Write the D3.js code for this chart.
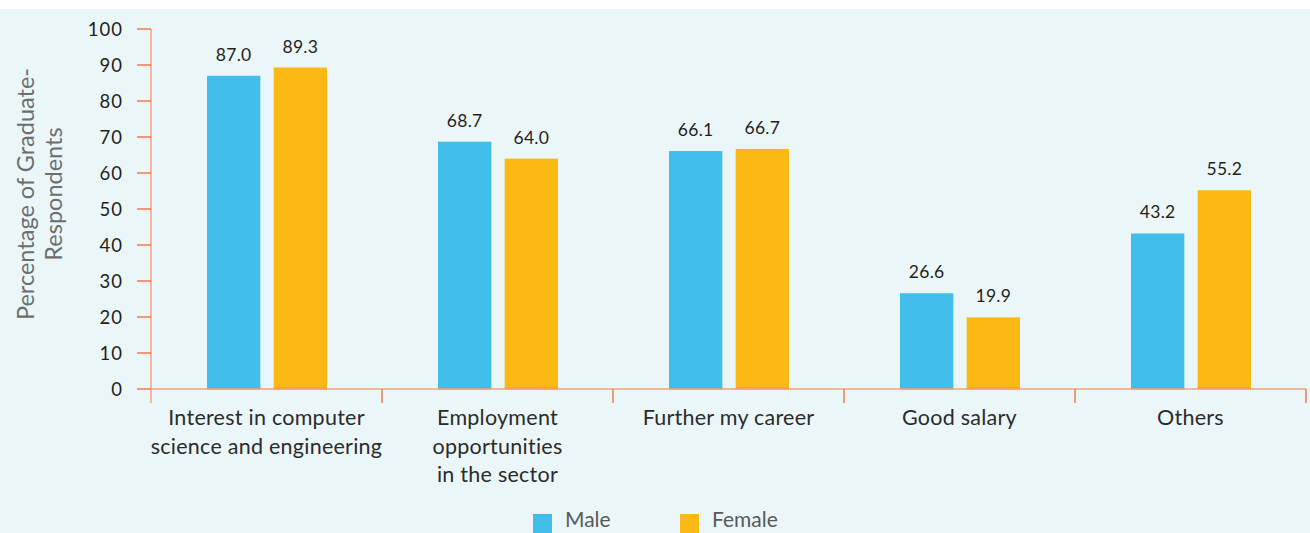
<!DOCTYPE html>
<html><head><meta charset="utf-8">
<script src="https://cdn.jsdelivr.net/npm/d3@7"></script>
<style>
html,body{margin:0;padding:0;background:#fff;}
svg{display:block;font-family:Lato,"Open Sans",sans-serif;}
</style></head>
<body>
<svg id="chart" width="1310" height="533"></svg>
<script>
const categories = [
  ["Interest in computer", "science and engineering"],
  ["Employment", "opportunities", "in the sector"],
  ["Further my career"],
  ["Good salary"],
  ["Others"]
];
const seriesNames = ["Male", "Female"];
const maleValues = [87.0, 68.7, 66.1, 26.6, 43.2];
const femaleValues = [89.3, 64.0, 66.7, 19.9, 55.2];
const yTicks = [0, 10, 20, 30, 40, 50, 60, 70, 80, 90, 100];
const yTitle = ["Percentage of Graduate-", "Respondents"];
const colors = ["#41BFEA", "#FDB913"];

const svg = d3.select("#chart");
svg.append("rect").attr("x", 0).attr("y", 9).attr("width", 1310).attr("height", 524).attr("fill", "#EBF6F8");

const x0 = d3.scaleBand().domain(d3.range(categories.length)).range([151, 1306]).paddingInner(0).paddingOuter(0);
const x1 = d3.scaleBand().domain(seriesNames).range([56, 176]).paddingInner(0.2);
const y = d3.scaleLinear().domain([0, 100]).range([389, 29]);

const data = categories.map((c, i) => ({i, vals: [maleValues[i], femaleValues[i]]}));

// bars
const g = svg.append("g");
data.forEach(d => {
  d.vals.forEach((v, k) => {
    const bx = x0(d.i) + x1(seriesNames[k]);
    g.append("rect")
      .attr("x", bx).attr("y", y(v))
      .attr("width", x1.bandwidth()).attr("height", y(0) - y(v))
      .attr("fill", colors[k]);
    g.append("line")
      .attr("x1", bx).attr("x2", bx + x1.bandwidth()).attr("y1", y(0) - 0.5).attr("y2", y(0) - 0.5)
      .attr("stroke", k === 0 ? "#8A9A9E" : "#F59A1E").attr("stroke-width", 2);
    g.append("text")
      .attr("x", bx + x1.bandwidth() / 2).attr("y", y(v) - 15)
      .attr("text-anchor", "middle").attr("font-size", 17.5).attr("letter-spacing", 0.3).attr("fill", "#231F20")
      .text(v.toFixed(1));
  });
});

// y axis
const axisColor = "#F2A284";
const tickColor = "#F07A4F";
const yAxis = svg.append("g");
yAxis.append("line").attr("x1", 151).attr("x2", 151).attr("y1", y(100)).attr("y2", 403)
  .attr("stroke", axisColor).attr("stroke-width", 1.5);
yTicks.forEach(t => {
  yAxis.append("line").attr("x1", 137).attr("x2", 151).attr("y1", y(t)).attr("y2", y(t))
    .attr("stroke", tickColor).attr("stroke-width", 1.5);
  yAxis.append("text").attr("x", 123).attr("y", y(t)).attr("dy", "0.36em")
    .attr("text-anchor", "end").attr("font-size", 18.5).attr("letter-spacing", 1).attr("fill", "#231F20").text(t);
});

// x axis
const xAxis = svg.append("g");
xAxis.append("line").attr("x1", 151).attr("x2", 1306).attr("y1", y(0)).attr("y2", y(0))
  .attr("stroke", axisColor).attr("stroke-width", 1.5);
const bounds = d3.range(categories.length + 1).map(i => i < categories.length ? x0(i) : x0(categories.length - 1) + x0.bandwidth());
bounds.forEach((bx, i) => {
  if (i === 0) return;
  xAxis.append("line").attr("x1", bx).attr("x2", bx).attr("y1", y(0)).attr("y2", y(0) + 14)
    .attr("stroke", tickColor).attr("stroke-width", 1.5);
});
categories.forEach((lines, i) => {
  const t = xAxis.append("text").attr("text-anchor", "middle").attr("font-size", 21.5).attr("letter-spacing", 0.25).attr("fill", "#2B2B2B");
  lines.forEach((ln, j) => {
    t.append("tspan").attr("x", x0(i) + x0.bandwidth() / 2).attr("y", 425 + j * 28.5).text(ln);
  });
});

// y title
const yt = svg.append("text").attr("transform", "translate(0,194) rotate(-90)")
  .attr("text-anchor", "middle").attr("font-size", 23.5).attr("fill", "#6D6E70");
yTitle.forEach((ln, j) => {
  yt.append("tspan").attr("x", 0).attr("y", 34 + j * 28).text(ln);
});

// legend
const legendX = [533, 680];
seriesNames.forEach((n, k) => {
  svg.append("rect").attr("x", legendX[k]).attr("y", 514).attr("width", 19).attr("height", 19).attr("fill", colors[k]);
  svg.append("text").attr("x", legendX[k] + 32).attr("y", 527).attr("font-size", 21)
    .attr("fill", "#58595B").text(n);
});
</script>
</body></html>
